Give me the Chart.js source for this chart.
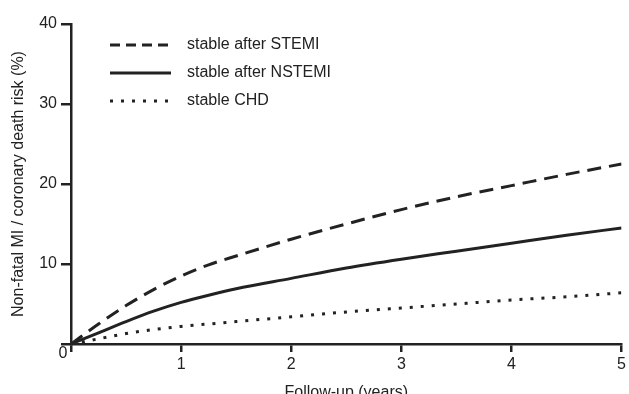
<!DOCTYPE html>
<html>
<head>
<meta charset="utf-8">
<script src="https://cdn.jsdelivr.net/npm/chart.js@4"></script>
<style>
  html, body { margin: 0; padding: 0; background: #fff; }
  #wrap { width: 629px; height: 394px; }
</style>
</head>
<body>
<div id="wrap"><canvas id="risk"></canvas></div>
<script>
'use strict';

// follow-up time (years) and cumulative risk (%)
const years = [0, 0.25, 0.5, 0.75, 1, 1.25, 1.5, 2, 2.5, 3, 3.5, 4, 4.5, 5];
const stemi = [0, 2.5, 4.8, 6.8, 8.5, 9.9, 11.0, 13.1, 15.0, 16.8, 18.4, 19.8, 21.2, 22.5];
const nstemi = [0, 1.4, 2.8, 4.1, 5.2, 6.1, 6.9, 8.2, 9.5, 10.6, 11.6, 12.6, 13.6, 14.5];
const chd = [0, 0.65, 1.3, 1.8, 2.2, 2.5, 2.8, 3.4, 4.0, 4.5, 5.0, 5.5, 5.9, 6.4];

const seriesLabels = ['stable after STEMI', 'stable after NSTEMI', 'stable CHD'];
const xTicks = [0, 1, 2, 3, 4, 5];
const yTicks = [0, 10, 20, 30, 40];

const ink = '#222';
const fontFamily = "'Liberation Sans', Arial, sans-serif";

function points(values) {
    return years.map((x, i) => ({ x: x, y: values[i] }));
}

// legend drawn in the upper left of the plot, like the original
const insetLegend = {
    id: 'insetLegend',
    afterDraw(chart) {
        const ctx = chart.ctx;
        const dashes = [[10, 6], [], [3, 8]];
        ctx.save();
        chart.data.datasets.forEach((ds, i) => {
            const y = 45 + i * 28;
            ctx.beginPath();
            ctx.setLineDash(dashes[i]);
            ctx.lineWidth = 3;
            ctx.strokeStyle = ds.borderColor;
            ctx.moveTo(110, y);
            ctx.lineTo(171, y);
            ctx.stroke();
            ctx.setLineDash([]);
            ctx.fillStyle = ink;
            ctx.font = '16px ' + fontFamily;
            ctx.textBaseline = 'middle';
            ctx.textAlign = 'left';
            ctx.fillText(ds.label, 187, y);
        });
        ctx.restore();
    }
};

// single "0" at the corner shared by both axes
const originLabel = {
    id: 'originLabel',
    afterDraw(chart) {
        const ctx = chart.ctx;
        const x = chart.scales.x.getPixelForValue(0);
        const y = chart.scales.y.getPixelForValue(0);
        ctx.save();
        ctx.fillStyle = ink;
        ctx.font = '16px ' + fontFamily;
        ctx.textAlign = 'center';
        ctx.textBaseline = 'middle';
        ctx.fillText('0', x - 8, y + 10);
        ctx.restore();
    }
};

const lineStyle = {
    borderColor: ink,
    borderWidth: 3,
    pointRadius: 0,
    fill: false,
    cubicInterpolationMode: 'monotone'
};

new Chart(document.getElementById('risk'), {
    type: 'line',
    data: {
        datasets: [
            Object.assign({ label: seriesLabels[0], data: points(stemi), borderDash: [14, 8] }, lineStyle),
            Object.assign({ label: seriesLabels[1], data: points(nstemi) }, lineStyle),
            Object.assign({ label: seriesLabels[2], data: points(chd), borderDash: [3, 8] }, lineStyle)
        ]
    },
    options: {
        responsive: true,
        maintainAspectRatio: false,
        animation: false,
        layout: { padding: { left: 0, right: 5, top: 24, bottom: 0 } },
        plugins: {
            legend: { display: false },
            tooltip: { enabled: false }
        },
        scales: {
            x: {
                type: 'linear',
                min: 0,
                max: 5,
                afterFit(scale) { scale.height = 50; },
                afterBuildTicks(scale) { scale.ticks = xTicks.map(v => ({ value: v })); },
                ticks: {
                    color: ink,
                    padding: 3,
                    maxRotation: 0,
                    font: { family: fontFamily, size: 16 },
                    callback: v => (v === 0 ? '' : String(v))
                },
                grid: { display: true, drawOnChartArea: false, drawTicks: true, tickLength: 8, color: ink, lineWidth: 2.5 },
                border: { display: true, color: ink, width: 2.5 },
                title: {
                    display: true,
                    text: 'Follow-up (years)',
                    color: ink,
                    font: { family: fontFamily, size: 16 },
                    padding: { top: 0, bottom: -8 }
                }
            },
            y: {
                min: 0,
                max: 40,
                afterFit(scale) { scale.width = 71; },
                afterBuildTicks(scale) { scale.ticks = yTicks.map(v => ({ value: v })); },
                ticks: {
                    color: ink,
                    padding: 4,
                    font: { family: fontFamily, size: 16 },
                    callback: v => (v === 0 ? '' : String(v))
                },
                grid: { display: true, drawOnChartArea: false, drawTicks: true, tickLength: 10, color: ink, lineWidth: 2.5 },
                border: { display: true, color: ink, width: 2.5 },
                title: {
                    display: true,
                    text: 'Non-fatal MI / coronary death risk (%)',
                    color: ink,
                    font: { family: fontFamily, size: 16 },
                    padding: { top: 9, bottom: 0 }
                }
            }
        }
    },
    plugins: [insetLegend, originLabel]
});
</script>
</body>
</html>
